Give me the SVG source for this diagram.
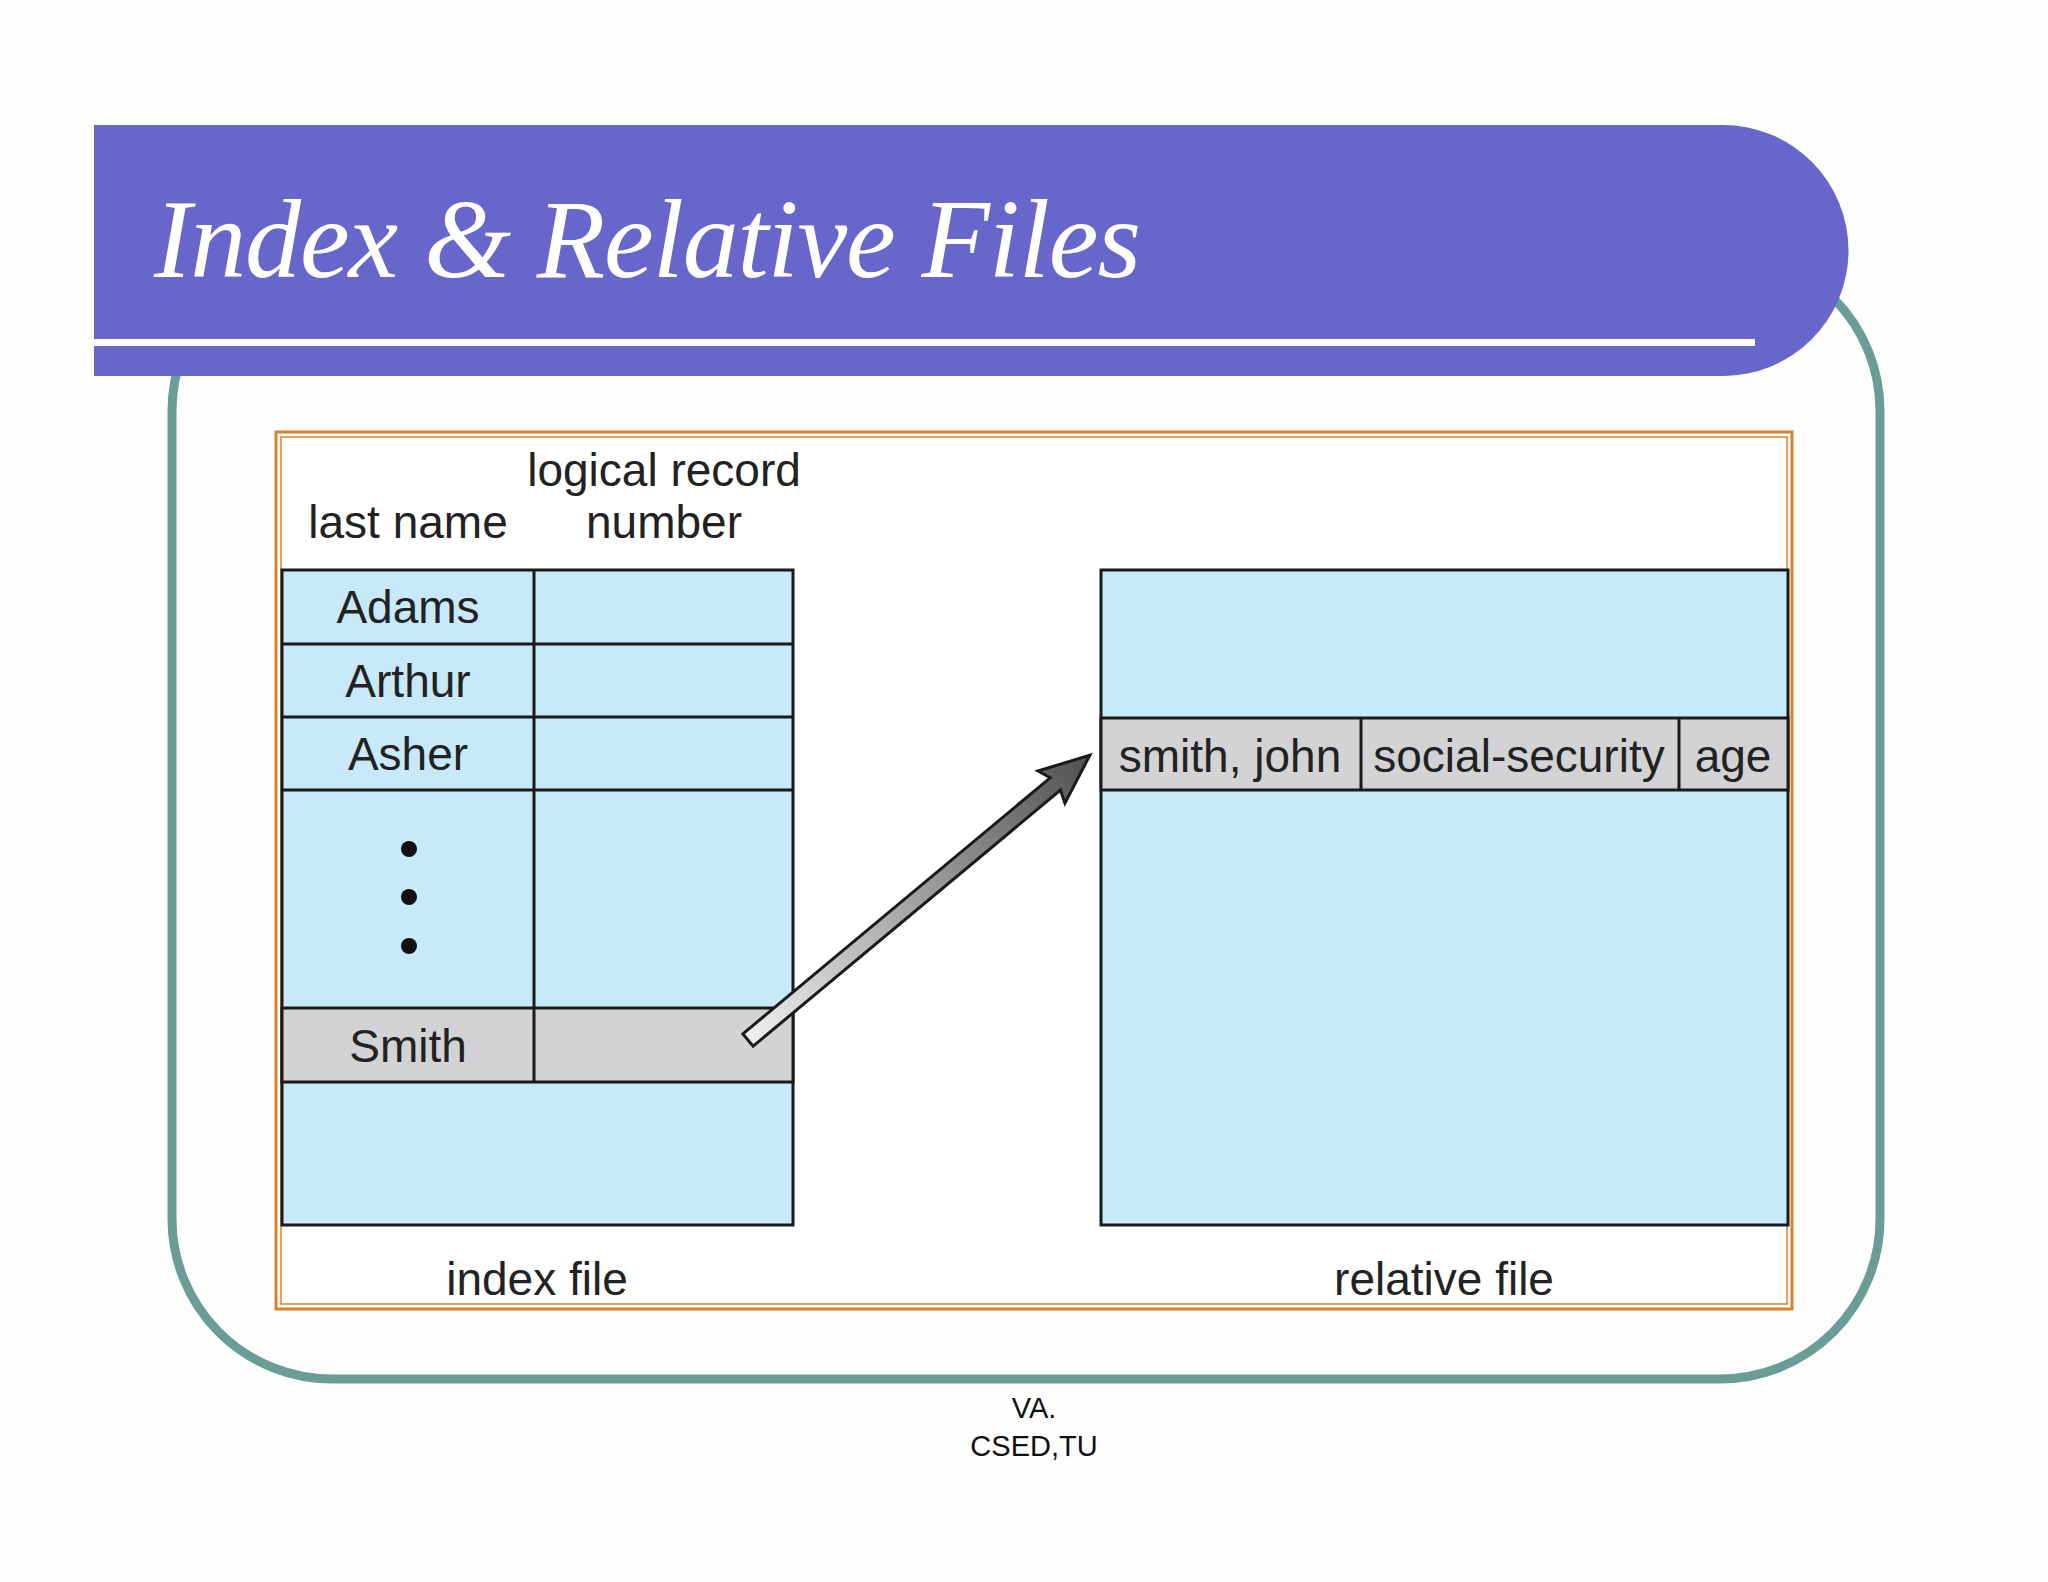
<svg xmlns="http://www.w3.org/2000/svg" width="2048" height="1582" viewBox="0 0 2048 1582">
<style>
.cell{fill:#c8e9f9;stroke:#1a1a1a;stroke-width:3}
.gray{fill:#d3d3d6;stroke:#1a1a1a;stroke-width:3}
.t{font-family:"Liberation Sans",Arial,sans-serif;font-size:46px;fill:#222;text-anchor:middle}
.f{font-family:"Liberation Sans",Arial,sans-serif;font-size:29px;fill:#111;text-anchor:middle}
</style>
<defs>
<linearGradient id="ag" gradientUnits="userSpaceOnUse" x1="0" y1="0" x2="445" y2="0">
<stop offset="0" stop-color="#f0f0f0"/><stop offset="1" stop-color="#505050"/>
</linearGradient>
</defs>
<rect width="2048" height="1582" fill="#fdfdfd"/>
<g id="frame">
<rect x="172" y="251" width="1708" height="1128" rx="160" fill="none" stroke="#6a9c98" stroke-width="9"/>
<path d="M94 125 H1723 A125 125 0 0 1 1723 376 H94 Z" fill="#6766cb"/>
<rect x="94" y="339" width="1661" height="7" fill="#fff"/>
<text x="154" y="277" font-family="Liberation Serif,serif" font-style="italic" font-size="112" fill="#fff" textLength="987">Index &amp; Relative Files</text>
</g>
<g id="box">
<rect x="276" y="432" width="1516" height="877" fill="#fff" stroke="#d9822b" stroke-width="3"/>
<rect x="281" y="437" width="1506" height="867" fill="none" stroke="#d9822b" stroke-width="1.5"/>
</g>
<g id="index-file">
<rect class="cell" x="282" y="570" width="511" height="655"/>
<rect class="gray" x="282" y="1008" width="511" height="74"/>
<line x1="282" y1="644" x2="793" y2="644" stroke="#1a1a1a" stroke-width="3"/>
<line x1="282" y1="717" x2="793" y2="717" stroke="#1a1a1a" stroke-width="3"/>
<line x1="282" y1="790" x2="793" y2="790" stroke="#1a1a1a" stroke-width="3"/>
<line x1="534" y1="570" x2="534" y2="1082" stroke="#1a1a1a" stroke-width="3"/>
<text class="t" x="664" y="486">logical record</text>
<text class="t" x="408" y="538">last name</text>
<text class="t" x="664" y="538">number</text>
<text class="t" x="408" y="623">Adams</text>
<text class="t" x="408" y="697">Arthur</text>
<text class="t" x="408" y="770">Asher</text>
<circle cx="409" cy="849" r="8" fill="#111"/>
<circle cx="409" cy="897" r="8" fill="#111"/>
<circle cx="409" cy="946" r="8" fill="#111"/>
<text class="t" x="408" y="1062">Smith</text>
<text class="t" x="537" y="1295">index file</text>
</g>
<g id="relative-file">
<rect class="cell" x="1101" y="570" width="687" height="655"/>
<rect class="gray" x="1101" y="718" width="687" height="72"/>
<line x1="1361" y1="718" x2="1361" y2="790" stroke="#1a1a1a" stroke-width="3"/>
<line x1="1679" y1="718" x2="1679" y2="790" stroke="#1a1a1a" stroke-width="3"/>
<text class="t" x="1230" y="772">smith, john</text>
<text class="t" x="1519" y="772">social-security</text>
<text class="t" x="1733" y="772">age</text>
<text class="t" x="1444" y="1295">relative file</text>
</g>
<g id="connectors">
<polygon transform="translate(748,1040) rotate(-39.8)" points="0,-8 400,-8 395,-21 445,0 395,21 400,8 0,8" fill="url(#ag)" stroke="#1a1a1a" stroke-width="3" stroke-linejoin="miter"/>
</g>
<g id="footer">
<text class="f" x="1034" y="1418">VA.</text>
<text class="f" x="1034" y="1456">CSED,TU</text>
</g>
</svg>
